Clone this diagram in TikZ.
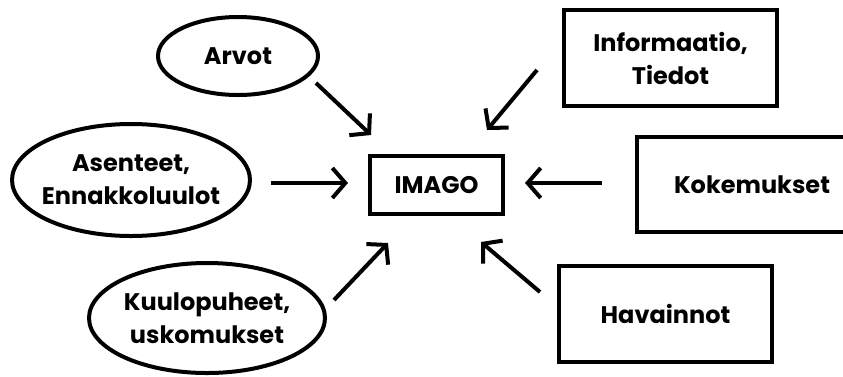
\documentclass[tikz,border=0pt]{standalone}
\usepackage{fontspec}
\setmainfont{Poppins}
\usetikzlibrary{shapes.geometric,arrows.meta}
\begin{document}
\begin{tikzpicture}[x=1pt,y=-1pt,
  lbl/.style={font=\fontsize{24}{33}\selectfont\bfseries, align=center, text=black},
  ell/.style={lbl, draw, ellipse, line width=4pt, inner xsep=-6pt, inner ysep=0pt},
  box/.style={lbl, draw, rectangle, line width=4pt},
  arr/.style={line width=4pt, -{Straight Barb[length=13pt,width=30pt]}}]
\clip (0,0) rectangle (843,376);
\node[ell, minimum width=160, minimum height=78] (arvot) at (238,56) {Arvot};
\node[ell, minimum width=238, minimum height=112] (asenteet) at (131,180) {Asenteet,\\Ennakkoluulot};
\node[ell, minimum width=236, minimum height=110] (kuulo) at (207,318) {Kuulopuheet,\\uskomukset};
\node[box, minimum width=133, minimum height=58] (imago) at (436.5,185) {IMAGO};
\node[box, minimum width=213, minimum height=96] (info) at (670.5,58) {Informaatio,\\Tiedot};
\node[box, minimum width=230, minimum height=95] (koke) at (752,184.5) {Kokemukset};
\node[box, minimum width=213, minimum height=96] (hav) at (665.5,314) {Havainnot};
\coordinate (a1s) at (316,83);  \coordinate (a1e) at (371,135);
\coordinate (a2s) at (271,183); \coordinate (a2e) at (348,183);
\coordinate (a3s) at (334,300); \coordinate (a3e) at (388,243);
\coordinate (a4s) at (537,70);  \coordinate (a4e) at (487,130);
\coordinate (a5s) at (602,183); \coordinate (a5e) at (525,183);
\coordinate (a6s) at (540,292); \coordinate (a6e) at (481,242);
\draw[arr] (a1s) -- (a1e);
\draw[arr] (a2s) -- (a2e);
\draw[arr] (a3s) -- (a3e);
\draw[arr] (a4s) -- (a4e);
\draw[arr] (a5s) -- (a5e);
\draw[arr] (a6s) -- (a6e);
\end{tikzpicture}
\end{document}
